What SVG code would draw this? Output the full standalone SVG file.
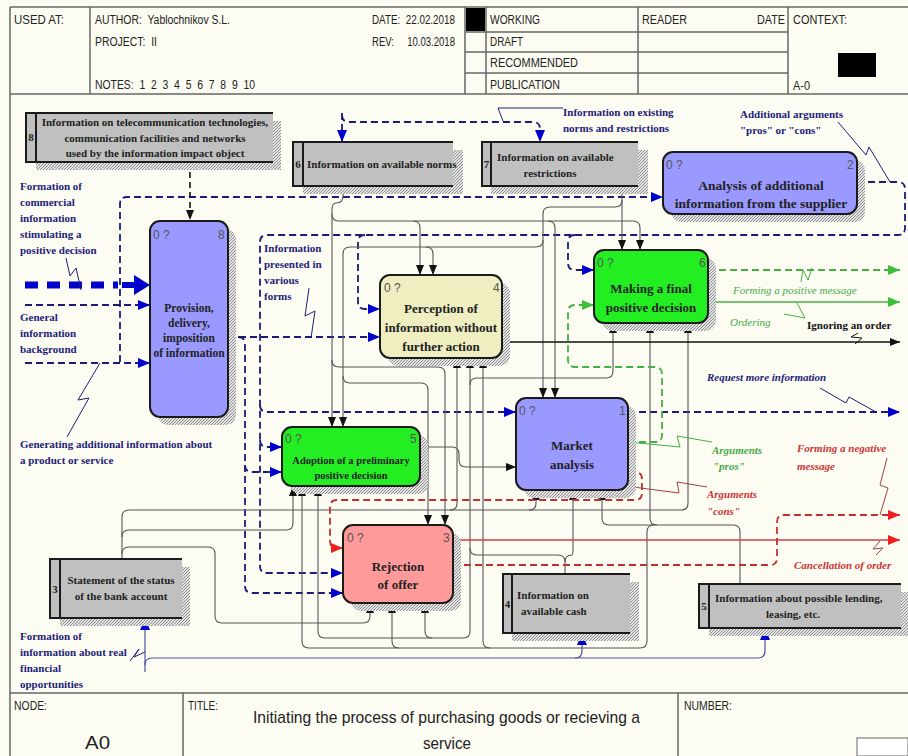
<svg xmlns="http://www.w3.org/2000/svg" width="908" height="756" viewBox="0 0 908 756">
<defs>
<style>
.hdr{font-family:"Liberation Sans",Arial,sans-serif;font-size:12.5px;fill:#222}
.lbl{font-family:"Liberation Serif","Times New Roman",serif;font-weight:bold;font-size:11px;fill:#1c1c78}
.it{font-style:italic}
.bt{font-family:"Liberation Serif","Times New Roman",serif;font-weight:bold;fill:#222;text-anchor:middle}
.tt{font-family:"Liberation Serif","Times New Roman",serif;font-weight:bold;font-size:11px;fill:#222}
.num{font-family:"Liberation Sans",Arial,sans-serif;font-size:12px;fill:#555}
.box{stroke:#1a1a1a;stroke-width:2}
.ln{fill:none;stroke:#1a1a1a;stroke-width:2}
.fr{fill:none;stroke:#666;stroke-width:1.5}
.dash{fill:none;stroke:#1c1c78;stroke-width:1.8;stroke-dasharray:7 4}
.thin{fill:none;stroke:#555;stroke-width:1.1}
.bthin{fill:none;stroke:#5050a0;stroke-width:1.2}
.blk{fill:none;stroke:#111;stroke-width:1.6}
.gd{fill:none;stroke:#44b044;stroke-width:1.8;stroke-dasharray:7 4}
.gs{fill:none;stroke:#44b044;stroke-width:1.6}
.rd{fill:none;stroke:#c03030;stroke-width:1.8;stroke-dasharray:7 4}
.rs{fill:none;stroke:#d04040;stroke-width:1.6}
.lead{fill:none;stroke-width:1}
</style>
<pattern id="hatch" width="3" height="3" patternUnits="userSpaceOnUse"><rect width="3" height="3" fill="#e4e4e4"/><path d="M0,3 L3,0" stroke="#777" stroke-width="0.8"/></pattern>
<marker id="aB" viewBox="0 0 12 10" refX="12" refY="5" markerWidth="12" markerHeight="10" orient="auto" markerUnits="userSpaceOnUse"><path d="M0,0 L12,5 L0,10 z" fill="#0000cc"/></marker>
<marker id="aK" viewBox="0 0 10 8" refX="10" refY="4" markerWidth="10" markerHeight="8" orient="auto" markerUnits="userSpaceOnUse"><path d="M0,0 L10,4 L0,8 z" fill="#111"/></marker>
<marker id="aG" viewBox="0 0 12 10" refX="12" refY="5" markerWidth="12" markerHeight="10" orient="auto" markerUnits="userSpaceOnUse"><path d="M0,0 L12,5 L0,10 z" fill="#3cc03c"/></marker>
<marker id="aR" viewBox="0 0 12 10" refX="12" refY="5" markerWidth="12" markerHeight="10" orient="auto" markerUnits="userSpaceOnUse"><path d="M0,0 L12,5 L0,10 z" fill="#ee2020"/></marker>
</defs>
<rect width="908" height="756" fill="#fdfcf3"/>

<g id="frame">
<path class="fr" d="M10,7 H908 M10,7 V756 M10,94 H908 M90,7 V94 M465,7 V94 M486,7 V94 M638,7 V94 M788,7 V94 M465,32 H788 M465,52 H788 M465,73 H788 M10,693 H908 M183,693 V756 M678,693 V756"/>
<rect x="466" y="8" width="19" height="23" fill="#000"/>
<rect x="838" y="53" width="38" height="24" fill="#000"/>
<rect x="857" y="738" width="51" height="18" fill="#fff" stroke="#666" stroke-width="1"/>
<text class="hdr" x="14" y="24" textLength="50" lengthAdjust="spacingAndGlyphs">USED AT:</text>
<text class="hdr" x="95" y="24" xml:space="preserve" textLength="135" lengthAdjust="spacingAndGlyphs">AUTHOR:  Yablochnikov S.L.</text>
<text class="hdr" x="95" y="46" xml:space="preserve" textLength="62" lengthAdjust="spacingAndGlyphs">PROJECT:  II</text>
<text class="hdr" x="95" y="89" xml:space="preserve" textLength="160" lengthAdjust="spacingAndGlyphs">NOTES:  1  2  3  4  5  6  7  8  9  10</text>
<text class="hdr" x="372" y="24" xml:space="preserve" textLength="83" lengthAdjust="spacingAndGlyphs">DATE:  22.02.2018</text>
<text class="hdr" x="372" y="46" xml:space="preserve" textLength="83" lengthAdjust="spacingAndGlyphs">REV:     10.03.2018</text>
<text class="hdr" x="490" y="24" textLength="50" lengthAdjust="spacingAndGlyphs">WORKING</text>
<text class="hdr" x="490" y="46" textLength="33" lengthAdjust="spacingAndGlyphs">DRAFT</text>
<text class="hdr" x="490" y="67" textLength="88" lengthAdjust="spacingAndGlyphs">RECOMMENDED</text>
<text class="hdr" x="490" y="89" textLength="70" lengthAdjust="spacingAndGlyphs">PUBLICATION</text>
<text class="hdr" x="642" y="24" textLength="45" lengthAdjust="spacingAndGlyphs">READER</text>
<text class="hdr" x="757" y="24" textLength="28" lengthAdjust="spacingAndGlyphs">DATE</text>
<text class="hdr" x="793" y="24" textLength="54" lengthAdjust="spacingAndGlyphs">CONTEXT:</text>
<text class="hdr" x="793" y="90" textLength="17" lengthAdjust="spacingAndGlyphs">A-0</text>
<text class="hdr" x="14" y="710" textLength="33" lengthAdjust="spacingAndGlyphs">NODE:</text>
<text class="hdr" x="85" y="749" style="font-size:19px" textLength="25" lengthAdjust="spacingAndGlyphs">A0</text>
<text class="hdr" x="188" y="710" textLength="30" lengthAdjust="spacingAndGlyphs">TITLE:</text>
<text class="hdr" x="253" y="723" style="font-size:17px" textLength="387" lengthAdjust="spacingAndGlyphs">Initiating the process of purchasing goods or recieving a</text>
<text class="hdr" x="423" y="749" style="font-size:17px" textLength="48" lengthAdjust="spacingAndGlyphs">service</text>
<text class="hdr" x="684" y="710" textLength="48" lengthAdjust="spacingAndGlyphs">NUMBER:</text>
</g>

<g id="connectors">
<path class="dash" d="M25,305 H150" marker-end="url(#aB)"/>
<path class="dash" d="M25,363 H150" marker-end="url(#aB)"/>
<path class="dash" d="M120,362 V204 Q120,197 127,197 H663" marker-end="url(#aB)"/>
<path class="dash" d="M857,182 H898 Q905,182 905,189 V228 Q905,235 898,235 H267 Q260,235 260,242 V566 Q260,573 267,573 H343" marker-end="url(#aB)"/>
<path class="dash" d="M365,235 Q358,235 358,242 V302 Q358,309 365,309 H380" marker-end="url(#aB)"/>
<path class="dash" d="M575,235 Q568,235 568,242 V263 Q568,270 575,270 H594" marker-end="url(#aB)"/>
<path class="dash" d="M260,405 Q260,412 267,412 H516" marker-end="url(#aB)"/>
<path class="dash" d="M260,440 Q260,447 267,447 H282" marker-end="url(#aB)"/>
<path class="dash" d="M228,337 H380" marker-end="url(#aB)"/>
<path class="dash" d="M238,337 Q245,337 245,344 V586 Q245,593 252,593 H343" marker-end="url(#aB)"/>
<path class="dash" d="M245,465 Q245,472 252,472 H282" marker-end="url(#aB)"/>
<path class="dash" d="M342,113 V142" marker-end="url(#aB)"/>
<path class="dash" d="M342,115 Q342,122 349,122 H533 Q540,122 540,129 V142" marker-end="url(#aB)"/>
<path class="dash" d="M628,412 H900" marker-end="url(#aB)"/>
<path d="M190,162 V220" fill="none" stroke="#111" stroke-width="1.6" stroke-dasharray="6 4" marker-end="url(#aK)"/>
<path d="M25,285 H118" fill="none" stroke="#0000cc" stroke-width="7" stroke-dasharray="13 9"/>
<path d="M122,282 H134 V275 L150,285 L134,295 V288 H122 z" fill="#0000cc"/>
<path class="bthin" d="M145,672 V618" marker-end="url(#aB)"/>
<path class="bthin" d="M145,665 Q145,658 152,658 H575 Q582,658 582,651 V633" marker-end="url(#aB)"/>
<path class="bthin" d="M575,658 H758 Q765,658 765,651 V628" marker-end="url(#aB)"/>
<path class="thin" d="M343,186 V196 Q343,203 336,203 Q332,203 332,210 V427" marker-end="url(#aK)"/>
<path class="thin" d="M332,214 Q332,221 339,221 H633 Q640,221 640,228 V250" marker-end="url(#aK)"/>
<path class="thin" d="M413,221 Q420,221 420,228 V275" marker-end="url(#aK)"/>
<path class="thin" d="M548,221 Q555,221 555,228 V398" marker-end="url(#aK)"/>
<path class="thin" d="M332,360 Q332,367 339,367 H438 Q445,367 445,374 V525" marker-end="url(#aK)"/>
<path class="thin" d="M622,186 V250" marker-end="url(#aK)"/>
<path class="thin" d="M622,200 Q622,207 615,207 H550 Q543,207 543,214 V398" marker-end="url(#aK)"/>
<path class="thin" d="M543,240 Q543,247 536,247 H350 Q343,247 343,254 V427" marker-end="url(#aK)"/>
<path class="thin" d="M426,247 Q433,247 433,254 V275" marker-end="url(#aK)"/>
<path class="thin" d="M343,376 Q343,383 350,383 H421 Q428,383 428,390 V525" marker-end="url(#aK)"/>
<path class="thin" d="M122,559 V517 Q122,510 129,510 H681 Q688,510 688,503 V323" marker-end="url(#aK)"/>
<path class="thin" d="M450,510 Q457,510 457,503 V358" marker-end="url(#aK)"/>
<path class="thin" d="M529,510 Q536,510 536,503 V490" marker-end="url(#aK)"/>
<path class="thin" d="M122,537 Q122,530 129,530 H286 Q293,530 293,523 V486" marker-end="url(#aK)"/>
<path class="thin" d="M122,554 Q122,547 129,547 H208 Q215,547 215,554 V616 Q215,623 222,623 H363 Q370,623 370,616 V603" marker-end="url(#aK)"/>
<path class="thin" d="M565,574 V562 Q565,555 558,555 H477 Q470,555 470,548 V358" marker-end="url(#aK)"/>
<path class="thin" d="M565,562 Q565,555 572,555 Q573,555 573,548 V490" marker-end="url(#aK)"/>
<path class="thin" d="M470,385 Q470,378 477,378 H606 Q613,378 613,371 V323" marker-end="url(#aK)"/>
<path class="thin" d="M470,548 V631 Q470,638 463,638 H325 Q318,638 318,631 V486" marker-end="url(#aK)"/>
<path class="thin" d="M432,638 Q425,638 425,631 V603" marker-end="url(#aK)"/>
<path class="thin" d="M740,584 V532 Q740,525 733,525 H609 Q602,525 602,518 V490" marker-end="url(#aK)"/>
<path class="thin" d="M657,525 Q650,525 650,518 V323" marker-end="url(#aK)"/>
<path class="thin" d="M654,525 Q647,525 647,532 V641 Q647,648 640,648 H309 Q302,648 302,641 V486" marker-end="url(#aK)"/>
<path class="thin" d="M399,648 Q392,648 392,641 V603" marker-end="url(#aK)"/>
<path class="thin" d="M490,648 Q483,648 483,641 V358" marker-end="url(#aK)"/>
<path class="blk" d="M503,342 H900" marker-end="url(#aK)"/>
<path class="gd" d="M708,270 H900" marker-end="url(#aG)"/>
<path class="gs" d="M708,302 H900" marker-end="url(#aG)"/>
<path class="gd" d="M628,442 H655 Q662,442 662,435 V374 Q662,367 655,367 H575 Q568,367 568,360 V312 Q568,305 575,305 H594" marker-end="url(#aG)"/>
<path class="rd" d="M628,472 H635 Q642,472 642,479 V493 Q642,500 635,500 H337 Q330,500 330,507 V541 Q330,548 337,548 H343" marker-end="url(#aR)"/>
<path class="thin" d="M420,447 H452 Q459,447 459,454 V460 Q459,467 466,467 H516" marker-end="url(#aK)"/>
<path class="rs" d="M453,540 H900" marker-end="url(#aR)"/>
<path class="rd" d="M453,565 H770 Q777,565 777,558 V522 Q777,515 784,515 H900" marker-end="url(#aR)"/>
<path class="lead" stroke="#1c1c78" d="M66,258 L70,276 L76,268 L81,290"/>
<path class="lead" stroke="#1c1c78" d="M100,363 L78,400 L89,398 L67,437"/>
<path class="lead" stroke="#1c1c78" d="M309,288 L305,316 L315,311 L311,338"/>
<path class="lead" stroke="#1c1c78" d="M563,108 H498 L503,121"/>
<path class="lead" stroke="#1c1c78" d="M838,122 L866,155 L869,147 L890,182"/>
<path class="lead" stroke="#44b044" d="M801,282 L803,270 L808,280 L812,268"/>
<path class="lead" stroke="#44b044" d="M797,303 L805,318 L784,314"/>
<path class="lead" stroke="#111" d="M858,333 L851,337 L862,338 L855,344"/>
<path class="lead" stroke="#1c1c78" d="M820,388 L846,403 L849,397 L876,412"/>
<path class="lead" stroke="#44b044" d="M712,442 L677,436 L680,447 L628,442"/>
<path class="lead" stroke="#a04040" d="M707,487 L677,482 L679,493 L633,487"/>
<path class="lead" stroke="#a04040" d="M887,458 L880,485 L888,488 L880,515"/>
<path class="lead" stroke="#a04040" d="M880,541 L873,549 L883,548 L876,555"/>
<path class="lead" stroke="#1c1c78" d="M130,661 L139,649 L134,657 L145,652"/>
</g>

<g id="node-A8">
<rect x="158" y="229" width="78" height="196" rx="10" fill="url(#hatch)"/>
<rect class="box" x="150" y="221" width="78" height="196" rx="10" fill="#9999ff"/>
<text class="num" x="153" y="239">0 ?</text><text class="num" x="218" y="239">8</text>
<text class="bt" x="189" y="312" font-size="11.5">Provision,</text>
<text class="bt" x="189" y="327" font-size="11.5">delivery,</text>
<text class="bt" x="189" y="342" font-size="11.5">imposition</text>
<text class="bt" x="189" y="357" font-size="11.5">of information</text>
</g>
<g id="node-A4">
<rect x="388" y="283" width="122" height="83" rx="10" fill="url(#hatch)"/>
<rect class="box" x="380" y="275" width="122" height="83" rx="10" fill="#efeec0"/>
<text class="num" x="384" y="292">0 ?</text><text class="num" x="493" y="292">4</text>
<text class="bt" x="441" y="313" font-size="13">Perception of</text>
<text class="bt" x="441" y="332" font-size="13">information without</text>
<text class="bt" x="441" y="351" font-size="13">further action</text>
</g>
<g id="node-A2">
<rect x="671" y="160" width="194" height="62" rx="10" fill="url(#hatch)"/>
<rect class="box" x="663" y="152" width="194" height="62" rx="10" fill="#9999ff"/>
<text class="num" x="666" y="169">0 ?</text><text class="num" x="847" y="169">2</text>
<text class="bt" x="761" y="190" font-size="13.5">Analysis of additional</text>
<text class="bt" x="761" y="208" font-size="13.5">information from the supplier</text>
</g>
<g id="node-A6">
<rect x="602" y="258" width="114" height="73" rx="10" fill="url(#hatch)"/>
<rect class="box" x="594" y="250" width="114" height="73" rx="10" fill="#22ee22"/>
<text class="num" x="597" y="267">0 ?</text><text class="num" x="699" y="267">6</text>
<text class="bt" x="651" y="293" font-size="13">Making a final</text>
<text class="bt" x="651" y="312" font-size="13">positive decision</text>
</g>
<g id="node-A1">
<rect x="524" y="406" width="112" height="92" rx="10" fill="url(#hatch)"/>
<rect class="box" x="516" y="398" width="112" height="92" rx="10" fill="#9999ff"/>
<text class="num" x="519" y="415">0 ?</text><text class="num" x="619" y="415">1</text>
<text class="bt" x="572" y="450" font-size="13">Market</text>
<text class="bt" x="572" y="469" font-size="13">analysis</text>
</g>
<g id="node-A5">
<rect x="290" y="435" width="138" height="59" rx="10" fill="url(#hatch)"/>
<rect class="box" x="282" y="427" width="138" height="59" rx="10" fill="#22ee22"/>
<text class="num" x="285" y="443">0 ?</text><text class="num" x="410" y="443">5</text>
<text class="bt" x="351" y="464" font-size="10.5">Adoption of a preliminary</text>
<text class="bt" x="351" y="479" font-size="10.5">positive decision</text>
</g>
<g id="node-A3">
<rect x="351" y="533" width="110" height="78" rx="10" fill="url(#hatch)"/>
<rect class="box" x="343" y="525" width="110" height="78" rx="10" fill="#ff9a9a"/>
<text class="num" x="347" y="542">0 ?</text><text class="num" x="443" y="542">3</text>
<text class="bt" x="398" y="571" font-size="13">Rejection</text>
<text class="bt" x="398" y="589" font-size="13">of offer</text>
</g>

<g id="tunnel-8">
<rect x="36" y="121" width="245" height="49" fill="url(#hatch)"/>
<rect x="26" y="113" width="247" height="49" fill="#c0c0c0"/>
<path class="ln" d="M273,113 H26 V162 H273 M36,113 V162"/>
<text class="tt" x="31" y="141" text-anchor="middle">8</text>
<text class="tt" x="155" y="126" text-anchor="middle">Information on telecommunication technologies,</text>
<text class="tt" x="155" y="142" text-anchor="middle">communication facilities and networks</text>
<text class="tt" x="155" y="157" text-anchor="middle">used by the information impact object</text>
</g>
<g id="tunnel-6">
<rect x="303" y="150" width="160" height="44" fill="url(#hatch)"/>
<rect x="293" y="142" width="160" height="44" fill="#c0c0c0"/>
<path class="ln" d="M453,142 H293 V186 H453 M303,142 V186"/>
<text class="tt" x="298" y="168" text-anchor="middle">6</text>
<text class="tt" x="307" y="168">Information on available norms</text>
</g>
<g id="tunnel-7">
<rect x="491" y="150" width="157" height="44" fill="url(#hatch)"/>
<rect x="482" y="142" width="156" height="44" fill="#c0c0c0"/>
<path class="ln" d="M638,142 H482 V186 H638 M491,142 V186"/>
<text class="tt" x="486.5" y="168" text-anchor="middle">7</text>
<text class="tt" x="497" y="161">Information on available</text>
<text class="tt" x="550" y="177" text-anchor="middle">restrictions</text>
</g>
<g id="tunnel-3">
<rect x="60" y="567" width="130" height="59" fill="url(#hatch)"/>
<rect x="50" y="559" width="132" height="59" fill="#c0c0c0"/>
<path class="ln" d="M182,559 H50 V618 H182 M60,559 V618"/>
<text class="tt" x="55" y="593" text-anchor="middle">3</text>
<text class="tt" x="121" y="584" text-anchor="middle">Statement of the status</text>
<text class="tt" x="121" y="600" text-anchor="middle">of the bank account</text>
</g>
<g id="tunnel-4">
<rect x="512" y="582" width="127" height="59" fill="url(#hatch)"/>
<rect x="503" y="574" width="127" height="59" fill="#c0c0c0"/>
<path class="ln" d="M630,574 H503 V633 H630 M512,574 V633"/>
<text class="tt" x="507.5" y="608" text-anchor="middle">4</text>
<text class="tt" x="517" y="599">Information on</text>
<text class="tt" x="521" y="615">available cash</text>
</g>
<g id="tunnel-5">
<rect x="709" y="592" width="200" height="44" fill="url(#hatch)"/>
<rect x="699" y="584" width="202" height="44" fill="#c0c0c0"/>
<path class="ln" d="M901,584 H699 V628 H901 M709,584 V628"/>
<text class="tt" x="704" y="610" text-anchor="middle">5</text>
<text class="tt" x="715" y="602">Information about possible lending,</text>
<text class="tt" x="793" y="618" text-anchor="middle">leasing, etc.</text>
</g>

<g id="labels">
<text class="lbl" x="20" y="190">Formation of</text>
<text class="lbl" x="20" y="206">commercial</text>
<text class="lbl" x="20" y="222">information</text>
<text class="lbl" x="20" y="238">stimulating a</text>
<text class="lbl" x="20" y="254">positive decision</text>
<text class="lbl" x="20" y="321">General</text>
<text class="lbl" x="20" y="337">information</text>
<text class="lbl" x="20" y="353">background</text>
<text class="lbl" x="20" y="448">Generating additional information about</text>
<text class="lbl" x="20" y="464">a product or service</text>
<text class="lbl" x="264" y="252">Information</text>
<text class="lbl" x="264" y="268">presented in</text>
<text class="lbl" x="264" y="284">various</text>
<text class="lbl" x="264" y="300">forms</text>
<text class="lbl" x="563" y="116">Information on existing</text>
<text class="lbl" x="563" y="132">norms and restrictions</text>
<text class="lbl" x="740" y="118">Additional arguments</text>
<text class="lbl" x="740" y="134">"pros" or "cons"</text>
<text class="lbl" x="20" y="640">Formation of</text>
<text class="lbl" x="20" y="656">information about real</text>
<text class="lbl" x="20" y="672">financial</text>
<text class="lbl" x="20" y="688">opportunities</text>
<text class="lbl it" x="733" y="294" style="fill:#44aa44;font-weight:normal">Forming a positive message</text>
<text class="lbl it" x="730" y="326" style="fill:#44aa44;font-weight:normal">Ordering</text>
<text class="lbl" x="807" y="329" style="fill:#111">Ignoring an order</text>
<text class="lbl it" x="707" y="381">Request more information</text>
<text class="lbl it" x="712" y="454" style="fill:#44aa44">Arguments</text>
<text class="lbl it" x="713" y="470" style="fill:#44aa44">"pros"</text>
<text class="lbl it" x="797" y="452" style="fill:#cc3333">Forming a negative</text>
<text class="lbl it" x="797" y="470" style="fill:#cc3333">message</text>
<text class="lbl it" x="707" y="498" style="fill:#cc3333">Arguments</text>
<text class="lbl it" x="707" y="515" style="fill:#cc3333">"cons"</text>
<text class="lbl it" x="794" y="569" style="fill:#cc3333">Cancellation of order</text>
</g>
</svg>
